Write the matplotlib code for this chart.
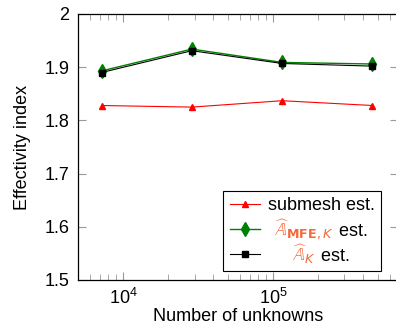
import numpy as np
import matplotlib
matplotlib.use("Agg")
import matplotlib.pyplot as plt

plt.rcParams['font.family'] = ['Liberation Sans', 'DejaVu Sans']

# values
unknowns = [7200, 28800, 115200, 460800]
submesh = [1.828, 1.825, 1.837, 1.828]
mfe = [1.893, 1.934, 1.909, 1.906]
a_k = [1.890, 1.931, 1.907, 1.902]

yticks = [1.5, 1.6, 1.7, 1.8, 1.9, 2.0]
ytick_labels = ["1.5", "1.6", "1.7", "1.8", "1.9", "2"]

orange = "#f5683a"
dkgreen = "#008000"
fs = 13

fig = plt.figure(figsize=(3.96, 3.26), dpi=100)
ax = fig.add_axes([77.8/396, 46/326, 320/396, 266/326])

ax.plot(unknowns, submesh, '-', color='red', lw=0.8, marker='^', ms=5,
        label="submesh est.")
ax.plot(unknowns, mfe, '-', color=dkgreen, lw=1.0, marker='d', ms=7,
        label="submesh est.")
ax.plot(unknowns, a_k, '-', color='black', lw=0.8, marker='s', ms=5,
        label="submesh est.")

ax.set_xscale('log')
ax.set_xlim(5000, 6.8e5)
ax.set_ylim(1.5, 2.0)
ax.set_yticks(yticks)
ax.set_yticklabels(ytick_labels)
ax.tick_params(which='both', direction='in', color='#999999', top=True, right=True,
               labelsize=fs, pad=6)
ax.tick_params(which='major', length=6)
ax.tick_params(which='minor', length=4)
for s in ax.spines.values():
    s.set_linewidth(0.9)

ax.set_xlabel("Number of unknowns", fontsize=fs, labelpad=0)
ax.set_ylabel("Effectivity index", fontsize=fs, labelpad=10)

leg = ax.legend(loc='lower right', bbox_to_anchor=(0.947, 0.034), fontsize=fs,
                fancybox=False, framealpha=1, edgecolor='black',
                handlelength=1.7, borderpad=0.35, labelspacing=0.45,
                handletextpad=0.4, borderaxespad=0)
leg.get_frame().set_linewidth(0.8)

# legend labels drawn centered, math part in orange
parts = [
    [("submesh est.", "black")],
    [(r"$\widehat{\mathbb{A}}_{\mathbf{MFE},K}$", orange), (" est.", "black")],
    [(r"$\widehat{\mathbb{A}}_K$", orange), (" est.", "black")],
]
fig.canvas.draw()
r = fig.canvas.get_renderer()
for t, row in zip(leg.get_texts(), parts):
    bb = t.get_window_extent(r)
    cx = (bb.x0 + bb.x1) / 2
    base = t.get_transform().transform((0, 0))[1]
    objs = [fig.text(0, base, s, color=c, fontsize=fs, va='baseline',
                     transform=None) for s, c in row]
    widths = [o.get_window_extent(r).width for o in objs]
    x = cx - sum(widths) / 2
    for o, w in zip(objs, widths):
        o.set_x(x)
        x += w
    t.set_visible(False)

fig.savefig("out.png", dpi=100)
